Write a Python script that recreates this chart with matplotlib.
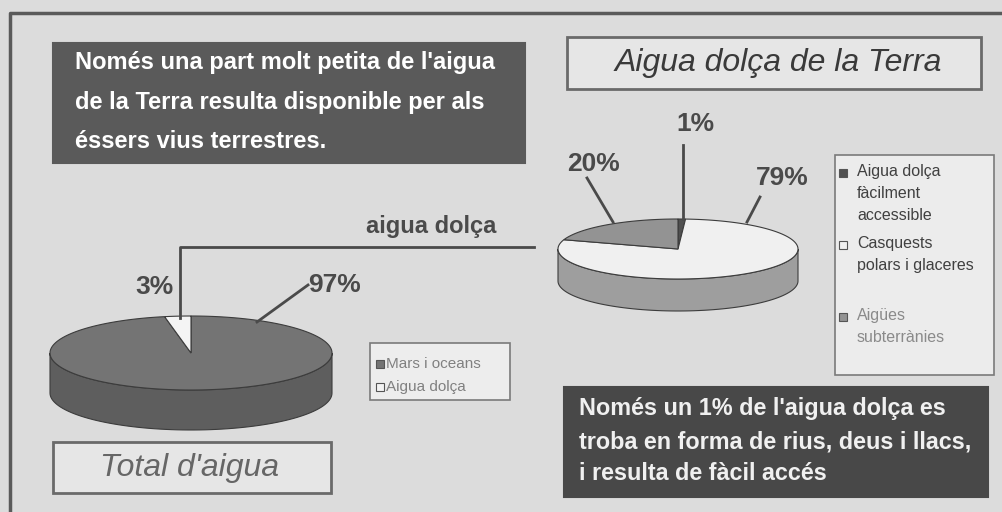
import matplotlib
matplotlib.use("Agg")
import matplotlib.pyplot as plt
from matplotlib.patches import Polygon, Rectangle
import numpy as np

# data
total_labels = ["Mars i oceans", "Aigua dolça"]
total_vals = [97, 3]
total_colors = ["#747474", "#f4f4f4"]
total_side = ["#5e5e5e", "#c8c8c8"]

fresh_labels = ["Aigua dolça\nfàcilment\naccessible", "Casquests\npolars i glaceres", "Aigües\nsubterrànies"]
fresh_vals = [1, 79, 20]
fresh_colors = ["#505050", "#f0f0f0", "#939393"]
fresh_side = ["#404040", "#9e9e9e", "#707070"]

sans = ["Liberation Sans", "DejaVu Sans"]

W, H = 1003, 512
fig = plt.figure(figsize=(W / 100, H / 100), dpi=100)
fig.patch.set_facecolor("#dcdcdc")
ax = fig.add_axes([0, 0, 1, 1])
ax.set_xlim(0, W)
ax.set_ylim(H, 0)
ax.axis("off")

# slide frame
ax.plot([10, 10, W], [H, 13, 13], color="#5a5a5a", lw=2.5)


def pie3d(vals, colors, sides, cx, cy, rx, ry, depth):
    # clockwise from 12 o'clock, like Excel
    fr = np.array(vals, dtype=float) / sum(vals)
    edges = 90 - 360 * np.concatenate([[0], np.cumsum(fr)])
    # sides (front half only: 180..360 deg)
    for i in range(len(vals)):
        a1, a0 = edges[i], edges[i + 1]  # a0 < a1
        for k in range(-1, 2):
            lo = max(a0, 180 + 360 * k)
            hi = min(a1, 360 + 360 * k)
            if hi <= lo:
                continue
            t = np.radians(np.linspace(lo, hi, 80))
            x = cx + rx * np.cos(t)
            y = cy - ry * np.sin(t)
            pts = np.column_stack([np.r_[x, x[::-1]], np.r_[y, y[::-1] + depth]])
            ax.add_patch(Polygon(pts, closed=True, fc=sides[i], ec="#3c3c3c", lw=0.8))
    # top
    for i in range(len(vals)):
        a1, a0 = edges[i], edges[i + 1]
        t = np.radians(np.linspace(a0, a1, 200))
        x = np.r_[cx, cx + rx * np.cos(t)]
        y = np.r_[cy, cy - ry * np.sin(t)]
        ax.add_patch(Polygon(np.column_stack([x, y]), closed=True, fc=colors[i], ec="#3c3c3c", lw=0.8))


def textbox(x0, y0, x1, y1, fc, ec, lw=1.5):
    ax.add_patch(Rectangle((x0, y0), x1 - x0, y1 - y0, fc=fc, ec=ec, lw=lw))


# top-left dark box
textbox(53, 43, 525, 163, "#5a5a5a", "#5a5a5a")
for yy, s in zip([63, 102, 141], ["Només una part molt petita de l'aigua",
                                  "de la Terra resulta disponible per als",
                                  "éssers vius terrestres."]):
    ax.text(75, yy, s, color="white", fontsize=17, fontweight="bold", family=sans, va="center")

# title boxes
textbox(567, 37, 981, 89, "#e6e6e6", "#6a6a6a", 2)
ax.text(778, 63, "Aigua dolça de la Terra", fontsize=23, style="italic", color="#3a3a3a",
        family=sans, ha="center", va="center")
textbox(53, 442, 331, 493, "#e6e6e6", "#6a6a6a", 2)
ax.text(190, 468, "Total d'aigua", fontsize=23, style="italic", color="#666666",
        family=sans, ha="center", va="center")

# bottom-right dark box
textbox(564, 387, 988, 497, "#484848", "#484848")
for yy, s in zip([408, 442, 473], ["Només un 1% de l'aigua dolça es",
                                  "troba en forma de rius, deus i llacs,",
                                  "i resulta de fàcil accés"]):
    ax.text(579, yy, s, color="#f0f0f0", fontsize=16.8, fontweight="bold", family=sans, va="center")

# left pie
pie3d(total_vals, total_colors, total_side, 191, 353, 141, 37, 40)
ax.plot([180, 180, 534], [318, 247, 247], color="#4a4a4a", lw=2)
ax.plot([257, 308], [322, 285], color="#4a4a4a", lw=2)
ax.text(431, 227, "aigua dolça", fontsize=17, fontweight="bold", color="#4a4a4a", family=sans,
        ha="center", va="center")
ax.text(174, 287, f"{total_vals[1]}%", fontsize=19, fontweight="bold", color="#4a4a4a",
        family=sans, ha="right", va="center")
ax.text(308, 285, f"{total_vals[0]}%", fontsize=19, fontweight="bold", color="#4a4a4a",
        family=sans, ha="left", va="center")

# left legend
textbox(370, 343, 510, 400, "#ededed", "#7a7a7a", 1.2)
for yy, lab, c in zip([364, 387], total_labels, total_colors):
    ax.add_patch(Rectangle((376, yy - 4), 8, 8, fc=c, ec="#555555", lw=0.8))
    ax.text(386, yy, lab, fontsize=11, color="#808080", family=sans, va="center")

# right pie
pie3d(fresh_vals, fresh_colors, fresh_side, 678, 249, 120, 30, 32)
ax.plot([683, 683], [145, 219], color="#4a4a4a", lw=2)
ax.plot([587, 613], [178, 222], color="#4a4a4a", lw=2)
ax.plot([760, 747], [197, 222], color="#4a4a4a", lw=2)
ax.text(695, 124, f"{fresh_vals[0]}%", fontsize=19, fontweight="bold", color="#4a4a4a",
        family=sans, ha="center", va="center")
ax.text(594, 164, f"{fresh_vals[2]}%", fontsize=19, fontweight="bold", color="#4a4a4a",
        family=sans, ha="center", va="center")
ax.text(782, 178, f"{fresh_vals[1]}%", fontsize=19, fontweight="bold", color="#4a4a4a",
        family=sans, ha="center", va="center")

# right legend
textbox(835, 155, 994, 375, "#ececec", "#7a7a7a", 1.2)
for yy, lab, c, tc in zip([173, 245, 317], fresh_labels, fresh_colors, ["#404040", "#404040", "#8a8a8a"]):
    ax.add_patch(Rectangle((839, yy - 4), 8, 8, fc=c, ec="#555555", lw=0.8))
    ax.text(857, yy - 9, lab, fontsize=11.5, color=tc, family=sans, va="top", linespacing=1.6)

fig.savefig("out.png", dpi=100, facecolor=fig.get_facecolor())
